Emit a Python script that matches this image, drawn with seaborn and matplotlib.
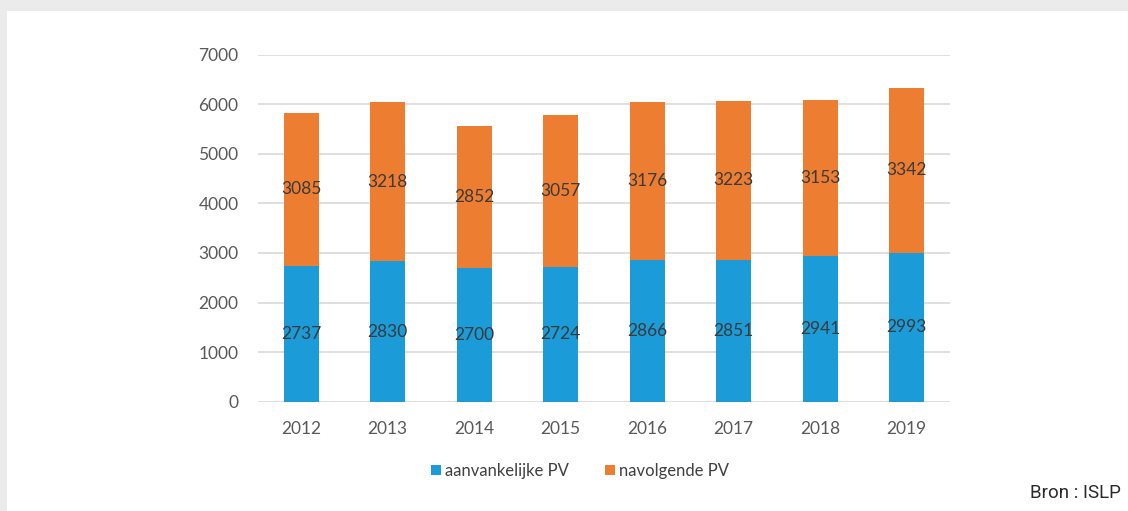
import matplotlib
matplotlib.use("Agg")
import matplotlib.pyplot as plt
from matplotlib.patches import Rectangle, Patch
import seaborn as sns
import pandas as pd

years = ["2012", "2013", "2014", "2015", "2016", "2017", "2018", "2019"]
aanvankelijke = [2737, 2830, 2700, 2724, 2866, 2851, 2941, 2993]
navolgende = [3085, 3218, 2852, 3057, 3176, 3223, 3153, 3342]
yticks = [0, 1000, 2000, 3000, 4000, 5000, 6000, 7000]
series_names = ["aanvankelijke PV", "navolgende PV"]
source_text = "Bron : ISLP"

BLUE = "#1b9bd7"
ORANGE = "#ed7d31"

sns.set_theme(style="white")
plt.rcParams["font.family"] = ["Lato", "DejaVu Sans"]

df = pd.DataFrame({"year": years, "a": aanvankelijke, "n": navolgende})
df["total"] = df["a"] + df["n"]

W, H = 1128, 511
fig = plt.figure(figsize=(W / 100, H / 100), dpi=100)
fig.patch.set_facecolor("white")
# gray page bands
fig.patches.append(Rectangle((0, 1 - 11 / H), 1, 11 / H, transform=fig.transFigure,
                             facecolor="#ebebeb", edgecolor="none", zorder=0))
fig.patches.append(Rectangle((0, 0), 7 / W, 1, transform=fig.transFigure,
                             facecolor="#ebebeb", edgecolor="none", zorder=0))

ax = fig.add_axes([258 / W, (H - 401.7) / H, 692 / W, (401.7 - 54.6) / H])
ax.set_facecolor("none")

sns.barplot(data=df, x="year", y="total", color=ORANGE, width=0.41,
            saturation=1, linewidth=0, edgecolor="none", ax=ax, zorder=3)
sns.barplot(data=df, x="year", y="a", color=BLUE, width=0.41,
            saturation=1, linewidth=0, edgecolor="none", ax=ax, zorder=4)

for i, (a, n) in enumerate(zip(aanvankelijke, navolgende)):
    ax.text(i, a / 2, str(a), ha="center", va="center", fontsize=12.5,
            color="#3a3a3a", zorder=5)
    ax.text(i, a + n / 2, str(n), ha="center", va="center", fontsize=12.5,
            color="#3a3a3a", zorder=5)

ax.set_xlim(-0.5, len(years) - 0.5)
ax.set_ylim(0, 7000)
ax.set_yticks(yticks)
ax.set_yticklabels([str(t) for t in yticks])
ax.grid(axis="y", color="#d9d9d9", linewidth=1.2, zorder=0)
ax.set_axisbelow(True)
for s in ax.spines.values():
    s.set_visible(False)
ax.tick_params(axis="y", length=0, pad=14, labelsize=12.5, labelcolor="#595959")
ax.tick_params(axis="x", length=0, pad=14, labelsize=12.5, labelcolor="#595959")
ax.set_xlabel("")
ax.set_ylabel("")

handles = [Patch(facecolor=BLUE, edgecolor="none"), Patch(facecolor=ORANGE, edgecolor="none")]
fig.legend(handles, series_names, loc="center", ncol=2,
           bbox_to_anchor=(580 / W, 1 - 471 / H), frameon=False,
           fontsize=12, handlelength=0.6, handleheight=0.6, handletextpad=0.25,
           columnspacing=2.2, labelcolor="#404040")

fig.text(1121 / W, 1 - 493 / H, source_text, ha="right", va="center",
         fontsize=13.5, color="#2a2a2a",
         family=["Roboto", "DejaVu Sans"])

fig.savefig("out.png", dpi=100)
